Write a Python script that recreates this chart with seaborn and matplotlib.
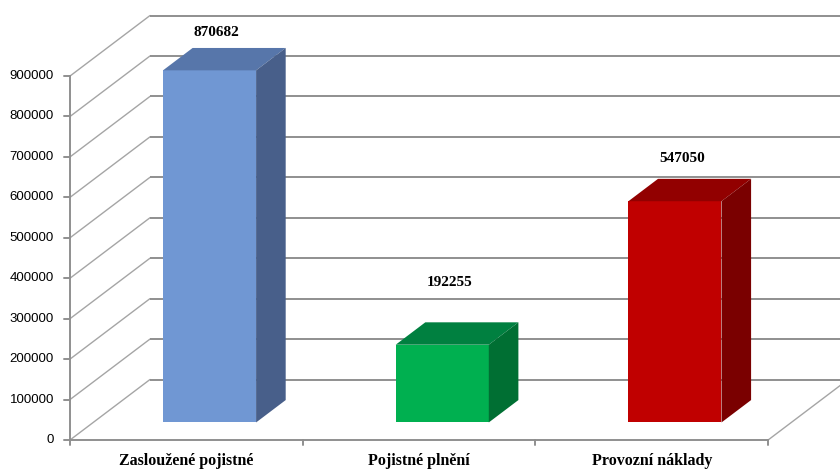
import matplotlib
matplotlib.use("Agg")
import matplotlib.pyplot as plt
import seaborn as sns
from matplotlib.patches import Polygon

# ---- data ----
categories = ["Zasloužené pojistné", "Pojistné plnění", "Provozní náklady"]
values = [870682, 192255, 547050]
y_ticks = [0, 100000, 200000, 300000, 400000, 500000, 600000, 700000, 800000, 900000]

# ---- styling ----
front_colors = ["#7097d3", "#00b050", "#c00000"]
top_colors = ["#5776aa", "#008040", "#920000"]
side_colors = ["#485f8a", "#006f33", "#7a0000"]
label_lift = [138000, 196000, 150000]   # value-label height above each bar top
grid_color = "#8f8f8f"
diag_color = "#a5a5a5"

sns.set_theme(style="white")
plt.rcParams["font.family"] = ["Liberation Serif", "DejaVu Serif"]

W, H = 840, 470
fig = plt.figure(figsize=(W / 100, H / 100), dpi=100)
ax = fig.add_axes([0, 0, 1, 1])

# oblique projection of the 3-D box: pixel scale of one category / one value unit
PX_X = 232.7
PX_Y = 40.44 / 100000
LEFT_PX, BASE_PX = 70, 440
DX = 80 / PX_X             # depth shift in category units
DY = 60.5 / PX_Y           # depth shift in value units
F0, FD = 0.29, 0.37        # bar depth start / depth thickness (fraction of box depth)
BAR_W = 0.40

# front faces through seaborn
sns.barplot(x=categories, y=values, hue=categories, order=categories,
            hue_order=categories, palette=front_colors, saturation=1,
            width=BAR_W, legend=False, ax=ax, zorder=3, edgecolor="none")

xmin, xmax = -0.5, len(categories) - 0.5
ymax = y_ticks[-1]

# walls: left-wall diagonals, back-wall gridlines
for v in y_ticks:
    ax.plot([xmin, xmin + DX], [v, v + DY], color=diag_color, lw=1.0, zorder=1)
    ax.plot([xmin + DX, xmax + DX + 0.5], [v + DY, v + DY], color=grid_color,
            lw=1.4, zorder=1, solid_capstyle="butt")
# floor right edge
ax.plot([xmax, xmax + DX], [0, DY], color=diag_color, lw=1.0, zorder=1)

# front value axis and category axis
ax.plot([xmin, xmin], [0, ymax], color=grid_color, lw=1.4, zorder=2)
ax.plot([xmin, xmax], [0, 0], color=grid_color, lw=1.4, zorder=2)
tick_len_x = 6 / PX_X
for v in y_ticks:
    ax.plot([xmin - tick_len_x, xmin], [v, v], color=grid_color, lw=1.4, zorder=2)
    ax.text(xmin - 16 / PX_X, v, f"{v}", ha="right", va="center",
            fontsize=9.5, family=["Liberation Sans", "DejaVu Sans"], color="#000000")
for k in range(len(categories) + 1):
    xb = xmin + k
    ax.plot([xb, xb], [0, -5 / PX_Y], color=grid_color, lw=1.4, zorder=2)

# shift front faces into depth, add top and side faces
for p in ax.patches:
    idx = int(round(p.get_x() + p.get_width() / 2))
    p.set_x(p.get_x() + F0 * DX)
    p.set_y(F0 * DY)
    xl, xr = p.get_x(), p.get_x() + p.get_width()
    yb, yt = p.get_y(), p.get_y() + p.get_height()
    ddx, ddy = FD * DX, FD * DY
    top = Polygon([(xl, yt), (xr, yt), (xr + ddx, yt + ddy), (xl + ddx, yt + ddy)],
                  closed=True, facecolor=top_colors[idx], edgecolor="none", zorder=3)
    side = Polygon([(xr, yb), (xr + ddx, yb + ddy), (xr + ddx, yt + ddy), (xr, yt)],
                   closed=True, facecolor=side_colors[idx], edgecolor="none", zorder=3)
    ax.add_patch(top)
    ax.add_patch(side)

# value labels
for i, v in enumerate(values):
    ax.text(i + F0 * DX + 0.03, v + label_lift[i], f"{v}", ha="center", va="center",
            fontsize=11, fontweight="bold", color="#000000")

# category labels
for i, c in enumerate(categories):
    ax.text(i, -21 / PX_Y, c, ha="center", va="center", fontsize=11.5,
            fontweight="bold", color="#000000")

ax.set_xlim(xmin - LEFT_PX / PX_X, xmin + (W - LEFT_PX) / PX_X)
ax.set_ylim(-(H - BASE_PX) / PX_Y, BASE_PX / PX_Y)
ax.axis("off")

fig.savefig("out.png", dpi=100, facecolor="white")
